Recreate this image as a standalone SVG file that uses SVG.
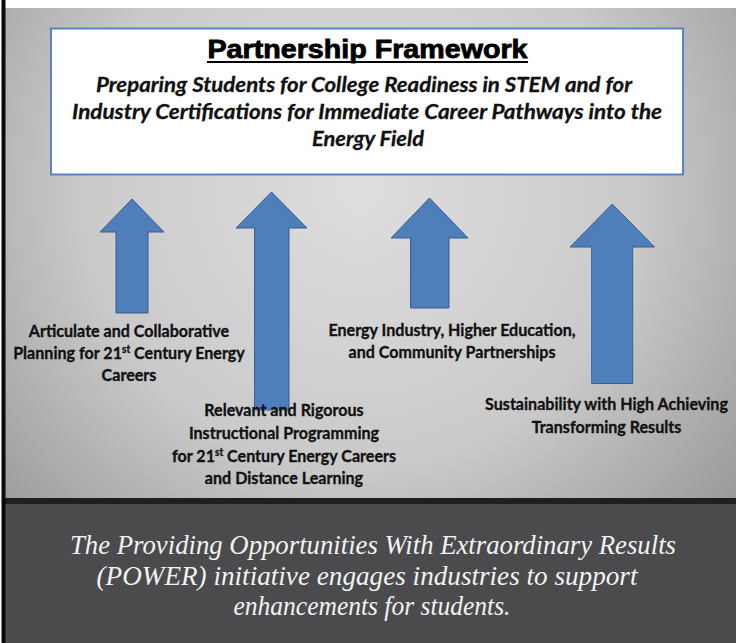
<svg xmlns="http://www.w3.org/2000/svg" width="736" height="643" viewBox="0 0 736 643">
<defs>
<radialGradient id="bg" gradientUnits="userSpaceOnUse" cx="360" cy="190" r="500" fx="360" fy="190">
<stop offset="0" stop-color="#dedede"/>
<stop offset="0.55" stop-color="#cacaca"/>
<stop offset="1" stop-color="#979797"/>
</radialGradient>
<style>
.arrow{fill:#4f7fba;stroke:#3b5f8c;stroke-width:1}
.lbl{font-family:Lato,"Liberation Sans",sans-serif;font-weight:bold;font-size:17.5px;fill:#111;stroke:#111;stroke-width:0.35;text-anchor:middle}
.sub{font-family:Lato,"Liberation Sans",sans-serif;font-weight:bold;font-style:italic;font-size:20px;fill:#111;stroke:#111;stroke-width:0.3;text-anchor:middle}
.foot{font-family:"Liberation Serif",serif;font-style:italic;font-size:27px;fill:#f2f2f2;text-anchor:middle}
</style>
</defs>
<rect x="0" y="0" width="736" height="643" fill="#ffffff"/>
<rect x="5" y="8" width="731" height="490" fill="url(#bg)"/>
<rect x="5" y="498" width="731" height="6" fill="#1f1f1f"/>
<rect x="5" y="504" width="731" height="139" fill="#4b4b4d"/>
<rect x="1.5" y="0" width="4" height="643" fill="#0a0a0a"/>

<g id="framework">
<rect x="51" y="28.5" width="632" height="146" fill="#ffffff" stroke="#5a84bd" stroke-width="2"/>
<text x="367.5" y="58" font-family="'Liberation Sans',Arial,sans-serif" font-weight="bold" font-size="25" text-anchor="middle" fill="#000" stroke="#000" stroke-width="0.8" textLength="320" lengthAdjust="spacingAndGlyphs">Partnership Framework</text>
<line x1="207" y1="62" x2="528" y2="62" stroke="#000" stroke-width="2"/>
<text class="sub" x="364" y="92" textLength="536" lengthAdjust="spacingAndGlyphs">Preparing Students for College Readiness in STEM and for</text>
<text class="sub" x="367" y="119" textLength="590" lengthAdjust="spacingAndGlyphs">Industry Certifications for Immediate Career Pathways into the</text>
<text class="sub" x="368" y="145.5" textLength="112" lengthAdjust="spacingAndGlyphs">Energy Field</text>
</g>

<g id="connectors">
<path class="arrow" d="M132,199 L164,232 L148,232 L148,313 L116,313 L116,232 L100,232 Z"/>
<path class="arrow" d="M271.5,192 L307,228 L289,228 L289,410 L254.5,410 L254.5,228 L236,228 Z"/>
<path class="arrow" d="M429.5,198 L468,238 L449,238 L449,308 L410.5,308 L410.5,238 L391,238 Z"/>
<path class="arrow" d="M612.3,204 L654.5,247 L632.7,247 L632.7,383.5 L591.7,383.5 L591.7,247 L570,247 Z"/>
</g>

<g id="label-planning" transform="translate(129,0) scale(0.92,1) translate(-129,0)">
<text class="lbl" x="129" y="337">Articulate and Collaborative</text>
<text class="lbl" x="129" y="359">Planning for 21<tspan dy="-6" font-size="11">st</tspan><tspan dy="6"> Century Energy</tspan></text>
<text class="lbl" x="129" y="381">Careers</text>
</g>

<g id="label-instruction" transform="translate(284,0) scale(0.92,1) translate(-284,0)">
<text class="lbl" x="284" y="416">Relevant and Rigorous</text>
<text class="lbl" x="284" y="439">Instructional Programming</text>
<text class="lbl" x="284" y="462">for 21<tspan dy="-6" font-size="11">st</tspan><tspan dy="6"> Century Energy Careers</tspan></text>
<text class="lbl" x="284" y="484">and Distance Learning</text>
</g>

<g id="label-partnerships" transform="translate(452,0) scale(0.92,1) translate(-452,0)">
<text class="lbl" x="452" y="336">Energy Industry, Higher Education,</text>
<text class="lbl" x="452" y="358">and Community Partnerships</text>
</g>

<g id="label-sustainability" transform="translate(606.5,0) scale(0.92,1) translate(-606.5,0)">
<text class="lbl" x="606.5" y="410.5">Sustainability with High Achieving</text>
<text class="lbl" x="606.5" y="433">Transforming Results</text>
</g>

<g id="footer">
<text class="foot" x="373" y="554" textLength="606" lengthAdjust="spacingAndGlyphs">The Providing Opportunities With Extraordinary Results</text>
<text class="foot" x="367" y="585" textLength="541" lengthAdjust="spacingAndGlyphs">(POWER) initiative engages industries to support</text>
<text class="foot" x="372" y="615" textLength="277" lengthAdjust="spacingAndGlyphs">enhancements for students.</text>
</g>
</svg>
